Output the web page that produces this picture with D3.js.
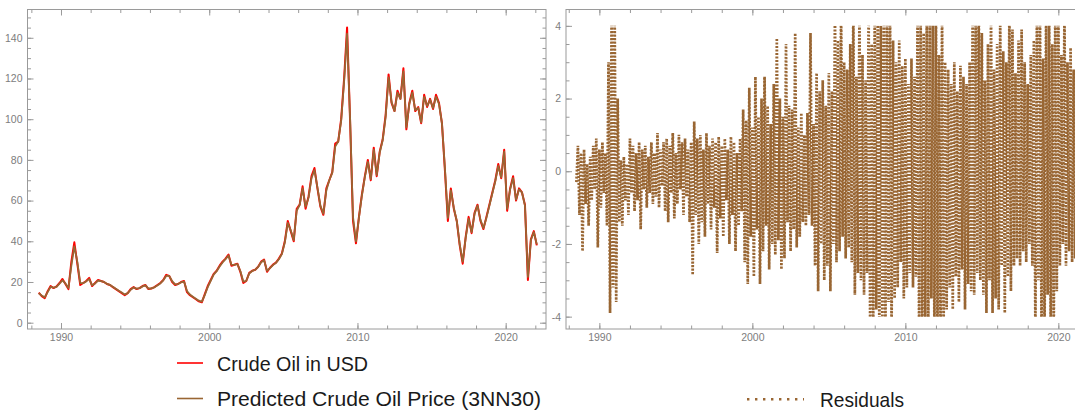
<!DOCTYPE html>
<html>
<head>
<meta charset="utf-8">
<script src="https://cdn.jsdelivr.net/npm/d3@7"></script>
<style>
  body { margin: 0; background: #fff; }
  #svg svg { display: block; }
</style>
</head>
<body>
<div id="svg"></div>
<script>
//data: oil price samples every 0.2 year from 1988.5 (axis years)
let oilStart = 1988.5;
let oilStep = 0.2;
let crudeOil = [
  14.8, 13.0, 12.0, 15.5, 18.0, 17.0, 17.8, 19.5, 21.5, 19.0,
  16.5, 30.0, 39.5, 29.0, 18.5, 19.5, 20.5, 22.0, 18.0, 19.5,
  21.0, 20.5, 20.0, 19.0, 18.5, 17.5, 16.5, 15.5, 14.5, 13.5,
  14.5, 16.5, 17.5, 16.5, 17.0, 18.0, 18.5, 16.5, 16.8, 17.5,
  18.5, 19.5, 21.0, 23.5, 23.0, 20.0, 18.5, 19.0, 20.0, 20.5,
  15.0, 13.5, 12.5, 11.5, 10.5, 10.0, 14.0, 18.0, 21.0, 24.0,
  25.5, 28.0, 30.0, 31.5, 33.5, 28.0, 28.5, 29.0, 25.0, 19.5,
  20.5, 24.5, 25.5, 26.0, 27.5, 30.0, 31.0, 25.0, 27.0, 28.5,
  29.5, 31.5, 34.0, 40.0, 50.0, 45.0, 40.0, 56.0, 58.0, 67.0,
  56.0, 62.0, 72.0, 76.0, 66.0, 57.0, 53.0, 66.0, 70.0, 74.0,
  88.0, 89.0, 100.0, 120.0, 145.0, 100.0, 50.0, 39.0, 52.0, 63.0,
  72.0, 80.0, 70.0, 86.0, 72.0, 84.0, 90.0, 102.0, 122.0, 108.0,
  104.0, 114.0, 110.0, 125.0, 95.0, 108.0, 114.0, 104.0, 106.0, 98.0,
  112.0, 106.0, 110.0, 105.0, 112.0, 108.0, 98.0, 75.0, 50.0, 66.0,
  56.0, 50.0, 38.0, 29.0, 42.0, 52.0, 44.0, 54.0, 58.0, 50.0,
  46.0, 52.0, 58.0, 64.0, 70.0, 78.0, 71.0, 85.0, 55.0, 66.0,
  72.0, 60.0, 66.0, 64.0, 58.0, 21.0, 41.0, 45.0, 38.0
];
let predictedOil = [
  14.5, 13.4, 12.5, 15.0, 17.6, 17.2, 17.6, 19.2, 20.8, 19.3,
  17.0, 28.0, 37.5, 30.0, 19.5, 19.4, 20.3, 21.4, 18.4, 19.3,
  20.7, 20.4, 20.0, 19.1, 18.6, 17.6, 16.7, 15.7, 14.8, 13.9,
  14.5, 16.2, 17.3, 16.7, 17.0, 17.8, 18.3, 16.8, 16.9, 17.4,
  18.3, 19.3, 20.8, 23.0, 23.0, 20.4, 18.8, 19.0, 19.8, 20.2,
  15.6, 13.8, 12.8, 11.8, 10.8, 10.4, 13.6, 17.5, 20.6, 23.6,
  25.3, 27.6, 29.6, 31.2, 33.0, 28.5, 28.4, 28.8, 25.4, 20.2,
  20.6, 24.2, 25.4, 26.0, 27.4, 29.7, 30.7, 25.5, 26.8, 28.3,
  29.4, 31.2, 33.7, 39.4, 49.0, 45.4, 40.6, 55.0, 57.8, 66.0,
  57.0, 61.4, 71.0, 75.0, 66.5, 57.5, 53.6, 65.0, 70.0, 73.6,
  86.5, 89.0, 99.0, 118.5, 142.0, 101.0, 52.0, 40.0, 51.5, 62.5,
  71.5, 79.0, 70.5, 85.0, 72.5, 83.5, 89.5, 101.0, 120.5, 108.5,
  104.0, 113.0, 110.0, 123.5, 96.0, 107.5, 113.0, 104.5, 105.5, 98.5,
  111.0, 106.5, 109.5, 105.5, 111.0, 107.5, 98.0, 76.0, 51.5, 65.0,
  56.5, 50.0, 38.5, 30.0, 41.5, 51.0, 44.5, 53.5, 57.5, 50.5,
  46.5, 51.5, 57.5, 63.5, 69.5, 77.0, 71.5, 84.0, 56.0, 65.5,
  71.0, 60.5, 65.5, 64.0, 57.5, 22.5, 40.5, 44.5, 38.5
];

//residuals every 0.1 year from 1988.5
let residStart = 1988.5;
let residStep = 0.1;
let residuals = [
  -0.3, 0.7, -1.2, 0.5, -2.2, 0.6, -0.9, 0.2, -1.5, 0.4,
  -0.8, 0.7, -0.5, 0.9, -2.1, 0.6, -1.0, 0.8, -0.6, 0.5,
  -1.5, 3.0, -3.9, 4.5, -3.2, 4.5, -3.6, 2.0, -1.4, 0.3,
  -1.5, 0.4, -0.8, 0.2, -1.2, 0.9, -0.6, 0.7, -1.1, 0.5,
  -0.8, 0.8, -1.6, 0.6, -0.5, 0.7, -1.0, 0.4, -0.6, 0.8,
  -0.9, 0.5, -0.7, 1.05, -1.0, 0.6, -0.4, 0.8, -1.1, 0.9,
  -1.4, 0.7, -0.6, 1.05, -1.3, 0.5, -0.9, 1.0, -0.5, 0.8,
  -1.2, 0.9, -0.7, 0.6, -1.4, 0.8, -2.85, 1.37, -1.2, 0.9,
  -2.0, 1.0, -1.4, 0.6, -1.8, 1.05, -0.9, 0.7, -1.6, 0.9,
  -1.0, 0.8, -2.25, 0.95, -1.3, 0.7, -1.8, 0.9, -0.8, 0.6,
  -2.0, 0.95, -1.2, 0.8, -2.2, 0.5, -1.5, 0.9, -1.1, 1.7,
  -2.5, 1.4, -3.1, 2.3, -1.8, 1.2, -2.9, 2.6, -1.6, 1.5,
  -3.1, 2.0, -2.2, 2.6, -1.5, 1.8, -2.7, 1.3, -2.0, 2.4,
  -2.3, 3.66, -1.9, 2.0, -2.7, 1.5, -2.4, 3.5, -1.4, 1.8,
  -2.2, 1.7, -1.6, 3.8, -2.1, 1.2, -1.8, 1.6, -1.4, 1.0,
  -1.5, 1.6, -1.2, 3.8, -1.5, 1.3, -2.6, 2.7, -3.3, 2.2,
  -2.0, 2.5, -3.0, 1.8, -2.6, 2.7, -3.3, 2.2, -2.0, 4.5,
  -2.5, 3.6, -2.2, 4.5, -1.8, 3.0, -2.4, 2.8, -2.1, 3.5,
  -2.5, 4.5, -3.4, 2.6, -2.8, 4.5, -3.0, 3.2, -3.4, 2.5,
  -2.8, 4.5, -4.5, 3.5, -4.5, 4.5, -3.8, 4.5, -4.5, 4.0,
  -4.5, 4.5, -4.5, 4.5, -3.6, 4.5, -4.5, 3.6, -3.5, 3.0,
  -3.2, 3.6, -2.5, 2.9, -3.5, 3.1, -3.2, 2.4, -2.8, 3.1,
  -3.2, 2.6, -2.9, 4.5, -4.5, 4.5, -4.5, 3.8, -4.5, 4.5,
  -4.5, 4.5, -3.5, 4.5, -4.5, 4.5, -4.5, 3.2, -4.5, 4.5,
  -4.5, 3.0, -3.8, 2.8, -3.2, 2.4, -3.8, 3.0, -2.9, 2.2,
  -3.6, 2.9, -2.7, 2.6, -3.8, 2.4, -3.1, 3.0, -3.3, 4.5,
  -3.4, 4.5, -2.8, 4.5, -3.0, 3.8, -3.4, 2.5, -3.9, 3.5,
  -3.0, 4.5, -3.9, 2.8, -3.5, 3.5, -3.8, 4.2, -2.6, 3.3,
  -3.9, 3.0, -2.9, 4.5, -3.3, 3.9, -2.6, 2.7, -2.4, 3.6,
  -2.6, 3.9, -2.2, 3.0, -2.5, 2.4, -2.0, 3.2, -2.6, 3.6,
  -4.5, 4.5, -3.0, 4.5, -4.5, 3.1, -4.5, 4.5, -3.4, 4.5,
  -4.5, 3.5, -4.5, 4.5, -3.3, 4.5, -2.6, 3.2, -2.0, 4.5,
  -2.6, 3.0, -2.2, 3.4, -2.5, 2.8, -2.4, 4.0
];

//ticks and labels
let yearTicks = [1990, 2000, 2010, 2020];
let yearMinor = [1988, 1990, 1992, 1994, 1996, 1998, 2000, 2002, 2004, 2006, 2008, 2010, 2012, 2014, 2016, 2018, 2020, 2022, 2024];
let priceTicks = [0, 20, 40, 60, 80, 100, 120, 140];
let priceMinor = d3.range(0, 155, 5);
let residTicks = [-4, -2, 0, 2, 4];
let residMinor = d3.range(-4, 4.01, 0.5);
let legendLabels = ['Crude Oil in USD', 'Predicted Crude Oil Price (3NN30)', 'Residuals'];

let red = '#ff0000';
let brown = '#996633';
let frameColor = '#9a9a9a';
let labelColor = '#7d7d7d';

let w = 1075;
let h = 410;

let svg = d3.select('#svg').
append('svg').
attr('width', w).
attr('height', h).
style('font-family', "'Liberation Sans', Arial, sans-serif");

let oilData = crudeOil.map((d, i) => ({ year: oilStart + i * oilStep, value: d }));
let predData = predictedOil.map((d, i) => ({ year: oilStart + i * oilStep, value: d }));
let residData = residuals.map((d, i) => ({ year: residStart + i * residStep, value: d }));

//scales
let xLeft = d3.scaleLinear().domain([1987.74, 2022.72]).range([27.5, 546]);
let yLeft = d3.scaleLinear().domain([-3.1, 153.9]).range([329, 9.5]);
let xRight = d3.scaleLinear().domain([1987.82, 2024.2]).range([566, 1122.6]);
let yRight = d3.scaleLinear().domain([-4.34, 4.45]).range([329, 9.5]);

//frame with inward ticks on all four sides
function drawFrame(x, y, xMajor, xMinor, yMajor, yMinor) {
  let [x0, x1] = x.range();
  let [y0, y1] = y.range();
  let g = svg.append('g');

  let sides = [
  { make: () => d3.axisBottom(x), at: 'translate(0,' + y0 + ')', major: xMajor, minor: xMinor, label: true, pad: 4.5 },
  { make: () => d3.axisTop(x), at: 'translate(0,' + y1 + ')', major: xMajor, minor: xMinor, label: false, pad: 5 },
  { make: () => d3.axisLeft(y), at: 'translate(' + x0 + ',0)', major: yMajor, minor: yMinor, label: true, pad: 5 },
  { make: () => d3.axisRight(y), at: 'translate(' + x1 + ',0)', major: yMajor, minor: yMinor, label: false, pad: 5 }];


  sides.forEach(s => {
    //minor ticks
    g.append('g').
    attr('transform', s.at).
    call(s.make().tickValues(s.minor).tickSizeInner(-3.5).tickSizeOuter(0).tickFormat(''));
    //major ticks
    g.append('g').
    attr('transform', s.at).
    call(s.make().tickValues(s.major).tickSizeInner(-6).tickSizeOuter(0).
    tickPadding(s.pad).
    tickFormat(s.label ? d => String(d) : ''));
  });

  g.selectAll('.domain').remove();
  g.selectAll('.tick line').attr('stroke', frameColor);
  g.selectAll('.tick text').
  attr('fill', labelColor).
  style('font-size', '10.5px').
  style('font-family', "'Liberation Sans Narrow', 'Liberation Sans', Arial, sans-serif");

  g.append('rect').
  attr('x', x0).
  attr('y', y1).
  attr('width', x1 - x0).
  attr('height', y0 - y1).
  attr('fill', 'none').
  attr('stroke', frameColor).
  attr('stroke-width', 1);
}

drawFrame(xLeft, yLeft, yearTicks, yearMinor.filter(d => d <= 2022), priceTicks, priceMinor);
drawFrame(xRight, yRight, yearTicks, yearMinor, residTicks, residMinor);

//left panel lines
let lineLeft = d3.line().
x(d => xLeft(d.year)).
y(d => yLeft(d.value));

svg.append('path').
datum(oilData).
attr('d', lineLeft).
attr('fill', 'none').
attr('stroke', red).
attr('stroke-width', 2).
attr('stroke-linejoin', 'round');

svg.append('path').
datum(predData).
attr('d', lineLeft).
attr('fill', 'none').
attr('stroke', brown).
attr('stroke-width', 1.8).
attr('stroke-linejoin', 'round');

//right panel residuals, clipped to the plot range -4..4
svg.append('clipPath').
attr('id', 'residClip').
append('rect').
attr('x', xRight.range()[0]).
attr('y', yRight(4)).
attr('width', xRight.range()[1] - xRight.range()[0]).
attr('height', yRight(-4) - yRight(4));

let lineRight = d3.line().
x(d => xRight(d.year)).
y(d => yRight(d.value));

svg.append('path').
datum(residData).
attr('d', lineRight).
attr('clip-path', 'url(#residClip)').
attr('fill', 'none').
attr('stroke', brown).
attr('stroke-width', 2.7).
attr('stroke-dasharray', '2 1.5').
attr('stroke-linejoin', 'bevel');

//legend
let legend = [
{ label: legendLabels[0], color: red, dash: null, x: 177, y: 363, len: 26, tl: 151 },
{ label: legendLabels[1], color: brown, dash: null, x: 177, y: 398.5, len: 26, tl: 324 },
{ label: legendLabels[2], color: brown, dash: '2.4 5.6', x: 747, y: 399.3, len: 57, tl: 84 }];


let lg = svg.selectAll('.legend').
data(legend).
enter().
append('g').
attr('class', 'legend');

lg.append('line').
attr('x1', d => d.x).
attr('x2', d => d.x + d.len).
attr('y1', d => d.y).
attr('y2', d => d.y).
attr('stroke', d => d.color).
attr('stroke-width', d => d.dash ? 2.4 : 1.6).
attr('stroke-dasharray', d => d.dash);

lg.append('text').
attr('x', d => d.dash ? d.x + 73 : d.x + 40).
attr('y', d => d.y + 7.5).
attr('textLength', d => d.tl).
attr('lengthAdjust', 'spacingAndGlyphs').
style('font-size', '21px').
attr('fill', '#1a1a1a').
text(d => d.label);
</script>
</body>
</html>
